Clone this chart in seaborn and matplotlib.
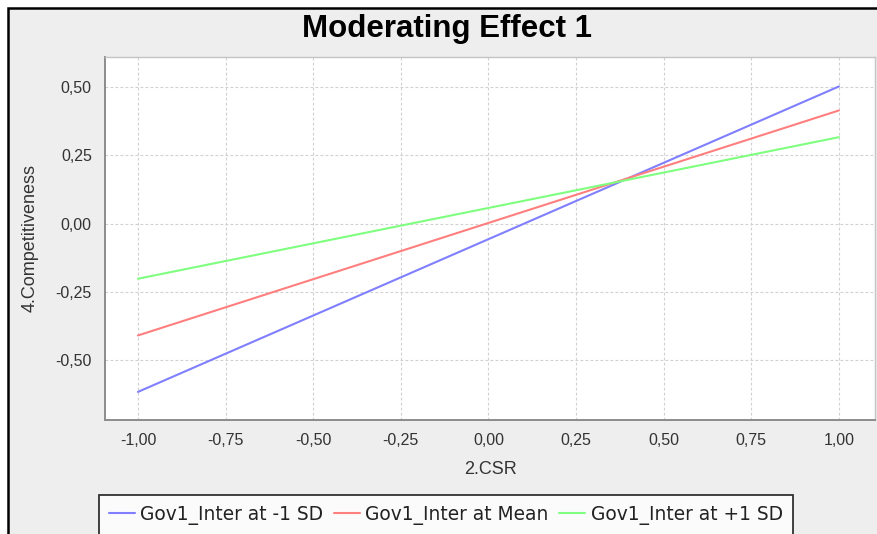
import pandas as pd
import matplotlib
matplotlib.use("Agg")
import matplotlib.pyplot as plt
import seaborn as sns
from matplotlib.patches import Rectangle
from matplotlib.ticker import FuncFormatter

# Values (line end points at CSR = -1 and +1)
csr = [-1.0, 1.0]
low_sd = [-0.617, 0.503]
mean_level = [-0.410, 0.415]
high_sd = [-0.202, 0.317]
series_names = ["Gov1_Inter at -1 SD", "Gov1_Inter at Mean", "Gov1_Inter at +1 SD"]
line_colors = ["#7f7fff", "#ff7f7f", "#7fff7f"]
x_ticks = [-1.0, -0.75, -0.5, -0.25, 0.0, 0.25, 0.5, 0.75, 1.0]
y_ticks = [-0.5, -0.25, 0.0, 0.25, 0.5]

df = pd.DataFrame({
    "csr": csr * 3,
    "value": low_sd + mean_level + high_sd,
    "series": [series_names[0]] * 2 + [series_names[1]] * 2 + [series_names[2]] * 2,
})

sns.set_style("whitegrid")
plt.rcParams['font.family'] = ['Liberation Sans', 'DejaVu Sans']

W, H = 877, 534
fig = plt.figure(figsize=(W / 100, H / 100), dpi=100, facecolor="white")

# grey panel with black frame (cropped at right and bottom)
fig.patches.append(Rectangle((7.5 / W, -0.1), 1.2, (H - 7.5) / H + 0.1,
                             transform=fig.transFigure, facecolor="#eeeeee",
                             edgecolor="black", linewidth=1.8, zorder=-10))

ax = fig.add_axes([105 / W, (H - 420) / H, 770 / W, 363 / H])
ax.set_facecolor("white")

sns.lineplot(data=df, x="csr", y="value", hue="series", palette=line_colors,
             hue_order=series_names, linewidth=1.5, ax=ax, legend=False)

ax.set_xlim(-1.094, 1.103)
ax.set_ylim(-0.72, 0.611)
ax.set_xticks(x_ticks)
ax.set_yticks(y_ticks)
comma = FuncFormatter(lambda v, p: f"{v:.2f}".replace(".", ","))
ax.xaxis.set_major_formatter(comma)
ax.yaxis.set_major_formatter(comma)

ax.grid(True, color="#d0d0d0", linestyle=(0, (2.5, 2)), linewidth=0.8)
for side in ["left", "bottom"]:
    ax.spines[side].set_color("#8c8c8c")
    ax.spines[side].set_linewidth(1.4)
for side in ["top", "right"]:
    ax.spines[side].set_color("#c4c4c4")
    ax.spines[side].set_linewidth(1.0)

ax.tick_params(axis="both", which="major", direction="out", length=3.5, width=1,
               color="#8c8c8c", labelsize=11.5, labelcolor="#333333")
ax.tick_params(axis="x", pad=6)
ax.tick_params(axis="y", pad=6)

ax.set_xlabel("2.CSR", fontsize=13, color="#333333", labelpad=9)
ax.set_ylabel("4.Competitiveness", fontsize=13, color="#333333", labelpad=12)

fig.text(447 / W, 1 - 29 / H, "Moderating Effect 1", ha="center", va="center",
         fontsize=22.5, fontweight="bold", color="black")

handles = [plt.Line2D([], [], color=c, linewidth=1.5) for c in line_colors]
leg = fig.legend(handles, series_names, loc="upper left",
                 bbox_to_anchor=(98.5 / W, 1 - 494.5 / H), ncol=3,
                 frameon=True, fancybox=False, borderpad=0.55,
                 handlelength=1.4, handletextpad=0.3, columnspacing=0.55,
                 borderaxespad=0, prop={"family": "DejaVu Sans", "size": 13.4})
leg.get_frame().set_edgecolor("black")
leg.get_frame().set_linewidth(1.3)
leg.get_frame().set_facecolor("white")
for t in leg.get_texts():
    t.set_color("#222222")

fig.savefig("out.png", dpi=100, facecolor=fig.get_facecolor())
